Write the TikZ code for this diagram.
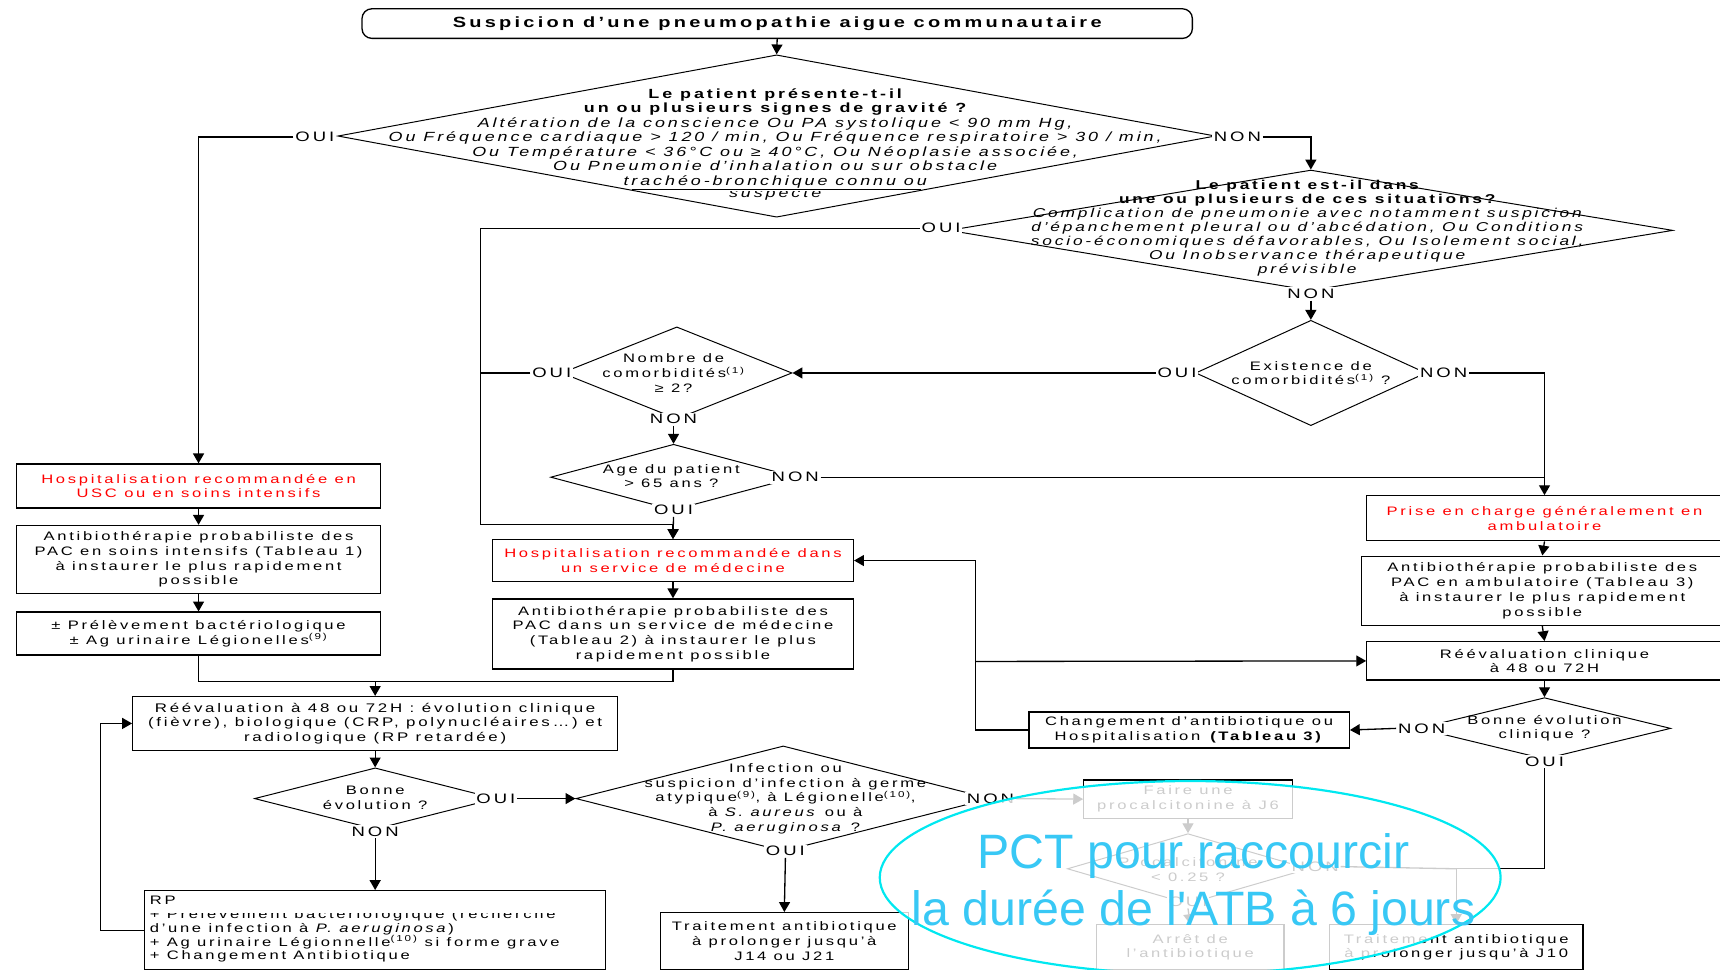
\documentclass[tikz,border=0pt]{standalone}
\usepackage{fontspec}
\setmainfont{Liberation Sans}[FakeStretch=1.35, LetterSpace=22]
\newfontfamily\pctfont{Liberation Sans}
\usetikzlibrary{shapes.geometric,arrows.meta,calc}
\definecolor{pctblue}{RGB}{56,200,245}
\definecolor{ringcyan}{RGB}{0,232,240}
\newcommand\bodyf{\fontsize{11.2}{13.4}\selectfont}
\newcommand\bigf{\fontsize{12.1}{13.2}\selectfont}
\newcommand\midf{\fontsize{11.7}{12.8}\selectfont}
\newcommand\labf{\fontsize{12.5}{14}\selectfont}
\newcommand\titlef{\fontsize{13.5}{15}\selectfont\bfseries}
\newcommand\refnum[1]{\textsuperscript{#1}}
\begin{document}
\begin{tikzpicture}[x=1pt,y=-1pt,
  box/.style={draw, line width=1.2pt, inner sep=0pt, align=center, font=\bodyf},
  redbox/.style={box, text=red},
  dia/.style={draw, line width=0.9pt, diamond, inner sep=0pt},
  dtext/.style={align=center, font=\bodyf, inner sep=0pt},
  lab/.style={font=\labf, fill=white, inner sep=1.5pt},
  conn/.style={line width=1.2pt},
  arr/.style={conn, -{Triangle[length=9pt,width=10pt]}},
  pcttext/.style={align=center, text=pctblue, font=\pctfont\fontsize{44}{52}\selectfont, inner sep=0pt}
]
\useasboundingbox (0,0) rectangle (1568,884);

% ---- start ----
\node[box, rounded corners=9pt, minimum width=757pt, minimum height=27pt, font=\titlef] (top) at (708.5,21.5)
  {Suspicion d'une pneumopathie aigue communautaire};

% ---- decision diamonds ----
\node[dia, minimum width=800pt, minimum height=148pt] (d1) at (708,124) {};
\node[dtext, font=\bigf] (d1t) at (708,126) {\textbf{Le patient présente-t-il}\\\textbf{un ou plusieurs  signes de gravité ?}\\
  \textit{Altération de la conscience Ou PA systolique < 90 mm Hg,}\\
  \textit{Ou Fréquence cardiaque > 120 / min, Ou Fréquence respiratoire > 30 / min,}\\
  \textit{Ou Température < 36°C ou ≥ 40°C, Ou Néoplasie associée,}\\
  \textit{Ou Pneumonie d'inhalation ou sur obstacle}\\
  \textit{trachéo-bronchique connu ou}};
\draw[line width=0.8pt] (576,173) -- (840,173);
\begin{scope}
  \clip (560,174.5) rectangle (860,195);
  \node[dtext, font=\bigf] (d1s) at (708,177) {\textit{suspecté}};
\end{scope}

\node[dia, minimum width=660pt, minimum height=110pt] (d2) at (1195,210) {};
\node[dtext, font=\midf] (d2t) at (1193,208) {\textbf{Le patient est-il dans}\\\textbf{une ou plusieurs de ces situations?}\\
  \textit{Complication de pneumonie avec notamment suspicion}\\
  \textit{d'épanchement pleural ou d'abcédation, Ou Conditions}\\
  \textit{socio-économiques défavorables, Ou Isolement social,}\\
  \textit{Ou Inobservance thérapeutique}\\
  \textit{prévisible}};

\node[dia, minimum width=210pt, minimum height=96pt] (d7) at (1195,340) {};
\node[dtext] (d7t) at (1195,340) {Existence de\\comorbidités\refnum{(1)} ?};

\node[dia, minimum width=210pt, minimum height=84pt] (d3) at (617,340) {};
\node[dtext] (d3t) at (614,340) {Nombre de\\comorbidités\refnum{(1)}\\≥ 2?};

\node[dia, minimum width=224pt, minimum height=60pt] (d4) at (614,435) {};
\node[dtext] (d4t) at (612,434) {Age du patient\\> 65 ans ?};

\node[dia, minimum width=220pt, minimum height=56pt] (d5) at (342,728) {};
\node[dtext] (d5t) at (342,727) {Bonne\\évolution ?};

\node[dia, minimum width=378pt, minimum height=96pt] (d6) at (714,728) {};
\node[dtext] (d6t) at (716,728) {Infection ou\\suspicion d'infection à germe\\atypique\refnum{(9)}, à Légionelle\refnum{(10)},\\à \textit{S. aureus} ou à\\\textit{P. aeruginosa} ?};

\node[dia, minimum width=230pt, minimum height=56pt] (d8) at (1408,664) {};
\node[dtext] (d8t) at (1408,664) {Bonne évolution\\clinique ?};

\node[dia, minimum width=220pt, minimum height=64pt] (f2) at (1083,792) {};
\node[dtext] (f2t) at (1083,793) {Procalcitonine\\< 0.25 ?};

% ---- boxes ----
\node[redbox, minimum width=332pt, minimum height=40pt] (l1) at (181,443) {Hospitalisation recommandée en\\USC ou en soins intensifs};
\node[box, minimum width=332pt, minimum height=62pt] (l2) at (181,510) {Antibiothérapie probabiliste des\\PAC en soins intensifs (Tableau 1)\\à instaurer le plus rapidement\\possible};
\node[box, minimum width=332pt, minimum height=39pt] (l3) at (181,577.5) {± Prélèvement bactériologique\\± Ag urinaire Légionelles\refnum{(9)}};

\node[redbox, minimum width=329pt, minimum height=38pt] (m1) at (613.5,511) {Hospitalisation recommandée dans\\un service de médecine};
\node[box, minimum width=329pt, minimum height=64pt] (m2) at (613.5,578) {Antibiothérapie probabiliste des\\PAC  dans un service de médecine\\(Tableau 2) à instaurer le plus\\rapidement possible};

\node[box, minimum width=442pt, minimum height=49pt, font=\fontsize{11.4}{13.4}\selectfont] (c1) at (342,659.5) {Réévaluation à 48 ou 72H : évolution clinique\\(fièvre), biologique (CRP, polynucléaires…) et\\radiologique (RP retardée)};
\node[box, minimum width=420pt, minimum height=72pt] (c2) at (342,848) {};
\node[anchor=west, align=left, inner sep=0pt, font=\fontsize{11.2}{12.7}\selectfont] (c2t) at ($(c2.west)+(5,-1)$)
  {RP\\+  Prélèvement bactériologique (recherche\\d'une infection à \textit{P. aeruginosa})\\+ Ag urinaire Légionnelle\refnum{(10)} si forme grave\\+  Changement Antibiotique};
\fill[white] (134,826) rectangle (548,832.5);
\node[box, minimum width=226pt, minimum height=52pt] (b1) at (715,858) {Traitement antibiotique\\à prolonger jusqu'à\\J14 ou J21};

\node[redbox, minimum width=324pt, minimum height=41pt] (r1) at (1408,472.5) {Prise en charge généralement en\\ambulatoire};
\node[box, minimum width=330pt, minimum height=63pt] (r2) at (1406,538.5) {Antibiothérapie probabiliste des\\PAC en ambulatoire (Tableau 3)\\à instaurer le plus rapidement\\possible};
\node[box, minimum width=324pt, minimum height=35pt] (r3) at (1408,602.5) {Réévaluation clinique\\à 48 ou 72H};
\node[box, minimum width=292pt, minimum height=33pt] (r4) at (1084,665.5) {Changement d'antibiotique ou\\Hospitalisation \textbf{(Tableau 3)}};

\node[box, minimum width=190pt, minimum height=35pt] (f1) at (1083,728.5) {Faire une\\procalcitonine à J6};
\node[box, minimum width=171pt, minimum height=41pt] (f3) at (1085,863.5) {Arrêt de\\l'antibiotique};
\node[box, minimum width=231pt, minimum height=41pt] (f4) at (1327.5,863.5) {Traitement antibiotique\\à prolonger jusqu'à J10};

% ---- yes / no labels ----
\node[lab] (d1oui) at (287,125) {OUI};
\node[lab] (d1non) at (1128,125) {NON};
\node[lab] (d2oui) at (858,208) {OUI};
\node[lab] (d2non) at (1195,268) {NON};
\node[lab] (d7oui) at (1073,340) {OUI};
\node[lab] (d7non) at (1316,340) {NON};
\node[lab] (d3oui) at (503,340) {OUI};
\node[lab] (d3non) at (614,382) {NON};
\node[lab] (d4non) at (725,435) {NON};
\node[lab] (d4oui) at (614,465) {OUI};
\node[lab] (d5oui) at (452,728) {OUI};
\node[lab] (d5non) at (342,758) {NON};
\node[lab] (d6oui) at (716,776) {OUI};
\node[lab] (d6non) at (903,728) {NON};
\node[lab] (d8non) at (1296,664) {NON};
\node[lab] (d8oui) at (1408,694) {OUI};
\node[lab] (f2non) at (1199,790) {NON};
\node[lab] (f2oui) at (1083,822) {OUI};

% ---- junction points ----
\coordinate (jh) at (438,478);
\coordinate (jm) at (342,621);
\coordinate (jr) at (889,603);
\coordinate (jf) at (1327.5,792);

% ---- connectors ----
\draw[arr] (top.south) -- (d1.north);
\draw[arr] (d1oui.west) -| (l1.north);
\draw[arr] (d1non.east) -| (d2.north);
\draw[arr] (d2oui.west) -| (jh) -| (m1.north);
\draw[conn] (d3oui.west) -- (d3oui.west -| jh);
\draw[arr] (d2non.south) -- (d7.north);
\draw[arr] (d7oui.west) -- (d3.east);
\draw[arr] (d7non.east) -| (r1.north);
\draw[arr] (d3non.south) -- (d4.north);
\draw[conn] (d4non.east) -- (d4non.east -| r1.north);
\draw[arr] (d4oui.south) -- (m1.north);

\draw[arr] (l1.south) -- (l2.north);
\draw[arr] (l2.south) -- (l3.north);
\draw[conn] (l3.south) |- (jm) -| (m2.south);
\draw[arr] (jm) -- (c1.north);
\draw[arr] (m1.south) -- (m2.north);

\draw[arr] (c1.south) -- (d5.north);
\draw[arr] (d5oui.east) -- (d6.west);
\draw[arr] (d5non.south) -- (c2.north);
\draw[arr] (c2.west) -- ++(-40,0) |- (c1.west);
\draw[arr] (d6oui.south) -- (b1.north);
\draw[arr] (d6non.east) -- (f1.west);

\draw[arr] (r1.south) -- (r2.north);
\draw[arr] (r2.south) -- (r3.north);
\draw[arr] (r3.south) -- (d8.north);
\draw[arr] (d8non.west) -- (r4.east);
\draw[arr] (r4.west) -- (r4.west -| jr) |- (m1.east);
\draw[arr] (jr) -- (r3.west);
\draw[arr] (d8oui.south) |- (jf) -- (f4.north);
\draw[conn] (f2non.east) -- (jf);
\draw[arr] (f1.south) -- (f2.north);
\draw[arr] (f2oui.south) -- (f3.north);

% ---- procalcitonin note ----
\fill[white, opacity=0.8] (1085,800) ellipse [x radius=283pt, y radius=88pt];
\draw[ringcyan, line width=2pt] (1085,800) ellipse [x radius=283pt, y radius=88pt];
\node[pcttext] (pct) at (1088,806) {PCT pour raccourcir\\la durée de l'ATB à 6 jours};
\end{tikzpicture}
\end{document}
